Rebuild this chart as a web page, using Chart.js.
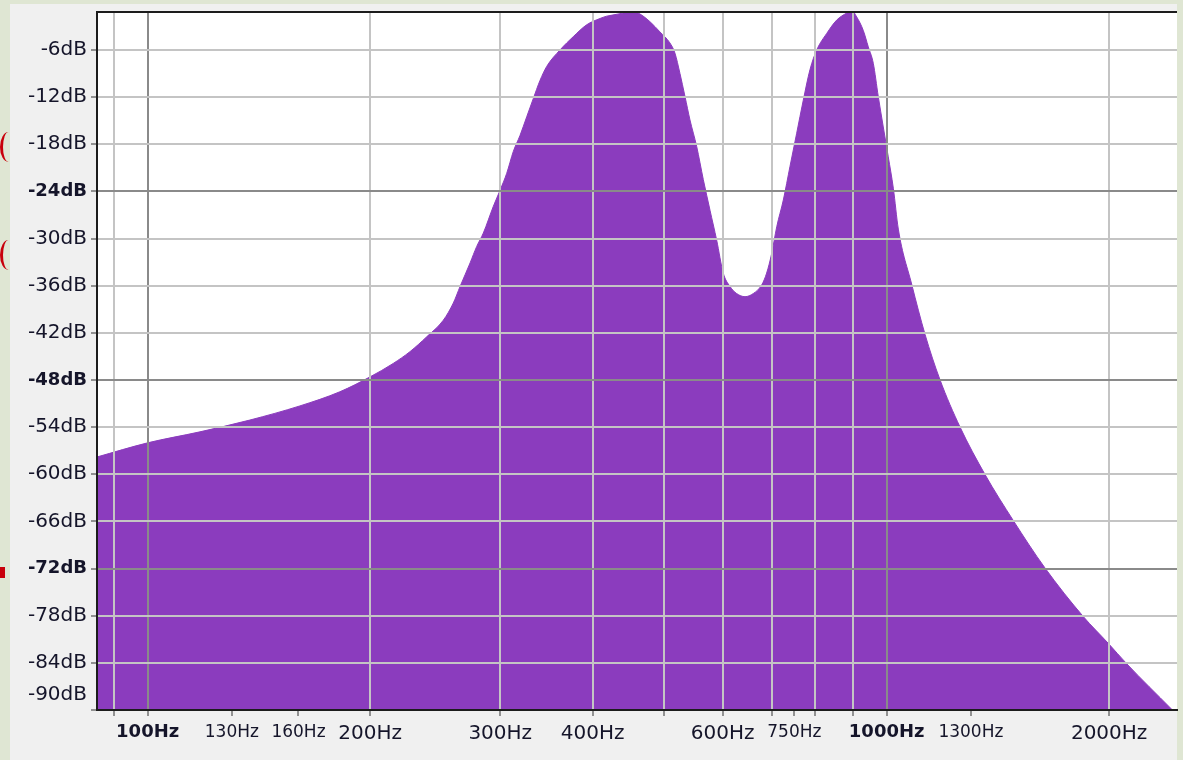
<!DOCTYPE html>
<html>
<head>
<meta charset="utf-8">
<title>Spectrum</title>
<script src="https://cdn.jsdelivr.net/npm/chart.js@4.4.0/dist/chart.umd.min.js"></script>
<style>
    html, body { margin: 0; padding: 0; }
    body { width: 1183px; height: 760px; background: #dfe6d3; position: relative; overflow: hidden; }
    #panel { position: absolute; left: 10px; top: 4px; width: 1167px; height: 756px; background: #f0f0f0; }
    #spectrum { position: absolute; left: 0; top: 0; }
    .mark { position: absolute; border-left: 3px solid #c8000a; border-radius: 50%; }
</style>
</head>
<body>
<div id="panel"></div>
<div class="mark" style="left:0; top:132px; width:14px; height:30px;"></div>
<div class="mark" style="left:0; top:240px; width:14px; height:30px;"></div>
<div style="position:absolute; left:0; top:567px; width:5px; height:11px; background:#c8000a;"></div>
<canvas id="spectrum" width="1183" height="760"></canvas>
<script>
// ===== DATA =====
// frequency (Hz) and level (dB)
const freqs = [85.4, 100, 117.7, 137.5, 160.7, 182, 200, 214.9, 226.4, 238.6,
    251.2, 259.2, 264.7, 273.1, 278.8, 284.6, 293.6, 300, 306.1, 312.5,
    319, 325.8, 332.5, 339.5, 346.7, 361.4, 376.7, 392.7, 409.3, 418,
    440.2, 449.4, 461.2, 478.3, 493.4, 508.9, 517, 525.2, 533.4, 541.8,
    553.3, 564.8, 576.7, 588.8, 601, 613.8, 626.6, 643.2, 660, 677.5,
    688, 698.9, 710, 724.7, 740, 755.5, 771.2, 787.5, 804.2, 829.6,
    855.8, 883, 896.8, 910.9, 929.6, 944.3, 959.2, 974.1, 989.5, 1005,
    1021, 1037, 1081, 1127, 1180, 1257, 1358, 1484, 1637, 1845,
    1994, 2112, 2430];
const levels = [-57.8, -56.0, -54.6, -53.1, -51.3, -49.5, -47.6, -45.9, -44.4, -42.5,
    -40.4, -38.2, -36.1, -33.1, -31.0, -29.3, -25.9, -23.8, -21.7, -18.9,
    -16.9, -14.5, -12.2, -9.9, -8.1, -6.0, -4.3, -2.8, -2.0, -1.7,
    -1.3, -1.0, -1.3, -2.4, -3.7, -5.1, -6.4, -9.0, -11.9, -14.9,
    -18.3, -22.5, -26.4, -30.2, -34.4, -36.1, -37.0, -37.4, -37.0, -35.9,
    -34.4, -31.9, -28.5, -25.1, -20.8, -16.6, -12.4, -8.5, -6.0, -3.9,
    -2.2, -1.3, -1.0, -1.8, -3.5, -5.6, -7.7, -11.9, -15.8, -19.6,
    -23.6, -28.8, -35.8, -42.2, -47.9, -54.0, -60.0, -65.9, -71.9, -78.1,
    -81.5, -84.1, -89.9];

// ===== AXES =====
const xTicks = [90, 100, 130, 160, 200, 300, 400, 500, 600, 700, 750, 800, 900, 1000, 1300, 2000];
const xLabels = { 100: "100Hz", 130: "130Hz", 160: "160Hz", 200: "200Hz", 300: "300Hz",
    400: "400Hz", 600: "600Hz", 750: "750Hz", 1000: "1000Hz", 1300: "1300Hz", 2000: "2000Hz" };
const xGrid = [90, 100, 200, 300, 400, 500, 600, 700, 800, 900, 1000, 2000];
const xMajor = [100, 1000];
const xSmall = [130, 160, 750, 1300];

const yTicks = [-90, -84, -78, -72, -66, -60, -54, -48, -42, -36, -30, -24, -18, -12, -6];
const yMajor = [-24, -48, -72];

const xMin = 85.4, xMax = 2471;
const yMin = -90, yMax = -1.17;

// ===== STYLE =====
const FONT = "'DejaVu Sans', Verdana, sans-serif";
const FILL = "#8b3cbe";
const TEXT = "#15152a";
const GRID_MINOR = "#c4c4c4";
const GRID_MAJOR = "#8a8a8a";
const AXIS = "#1c1c1c";

function tickValue(ctx) {
    return ctx.tick ? ctx.tick.value : null;
}

function xFont(ctx) {
    const v = tickValue(ctx);
    if (xMajor.includes(v)) return { family: FONT, size: 18, weight: "bold" };
    if (xSmall.includes(v)) return { family: FONT, size: 17 };
    return { family: FONT, size: 20 };
}

function yFont(ctx) {
    const v = tickValue(ctx);
    if (v === yMax) return { family: FONT, size: 2 };
    if (v === yMin) return { family: FONT, size: 20, lineHeight: 1.5 };
    if (yMajor.includes(v)) return { family: FONT, size: 18, weight: "bold" };
    return { family: FONT, size: 20 };
}

// white plot area
const plotBg = {
    id: "plotBg",
    beforeDraw(chart) {
        const a = chart.chartArea;
        const c = chart.ctx;
        c.save();
        c.fillStyle = "#ffffff";
        c.fillRect(a.left, a.top, a.right - a.left, a.bottom - a.top);
        c.restore();
    }
};

// ===== CHART =====
const chart = new Chart(document.getElementById("spectrum"), {
    type: "line",
    data: {
        datasets: [{
            data: freqs.map((f, i) => ({ x: f, y: levels[i] })),
            fill: "start",
            backgroundColor: FILL,
            borderColor: FILL,
            borderWidth: 1,
            pointRadius: 0,
            cubicInterpolationMode: "monotone"
        }]
    },
    options: {
        responsive: false,
        animation: false,
        layout: { padding: { top: 12, right: 6, left: 0, bottom: 0 } },
        plugins: {
            legend: { display: false },
            tooltip: { enabled: false }
        },
        scales: {
            x: {
                type: "logarithmic",
                min: xMin,
                max: xMax,
                afterBuildTicks: s => { s.ticks = xTicks.map(v => ({ value: v })); },
                afterFit: s => { s.height = 50; },
                ticks: {
                    autoSkip: false,
                    maxRotation: 0,
                    padding: 6,
                    color: TEXT,
                    font: xFont,
                    callback: v => xLabels[v] || ""
                },
                grid: {
                    z: 1,
                    lineWidth: 2,
                    tickLength: 6,
                    tickWidth: 1,
                    tickColor: "#333333",
                    color: ctx => {
                        const v = tickValue(ctx);
                        if (!xGrid.includes(v)) return "rgba(0,0,0,0)";
                        return xMajor.includes(v) ? GRID_MAJOR : GRID_MINOR;
                    }
                },
                border: { z: 2, color: AXIS, width: 2 }
            },
            y: {
                type: "linear",
                min: yMin,
                max: yMax,
                afterBuildTicks: s => { s.ticks = yTicks.concat([yMax]).map(v => ({ value: v })); },
                afterFit: s => { s.width = 97; },
                ticks: {
                    autoSkip: false,
                    padding: 4,
                    color: TEXT,
                    font: yFont,
                    callback: v => {
                        if (v === yMax) return "";
                        if (v === yMin) return [v + "dB", ""];
                        return v + "dB";
                    }
                },
                grid: {
                    z: 1,
                    lineWidth: 2,
                    tickLength: 6,
                    tickWidth: 1,
                    tickColor: ctx => tickValue(ctx) === yMax ? "rgba(0,0,0,0)" : "#333333",
                    color: ctx => {
                        const v = tickValue(ctx);
                        if (v === yMax) return AXIS;
                        return yMajor.includes(v) ? GRID_MAJOR : GRID_MINOR;
                    }
                },
                border: { z: 2, color: AXIS, width: 2 }
            }
        }
    },
    plugins: [plotBg]
});
</script>
</body>
</html>
